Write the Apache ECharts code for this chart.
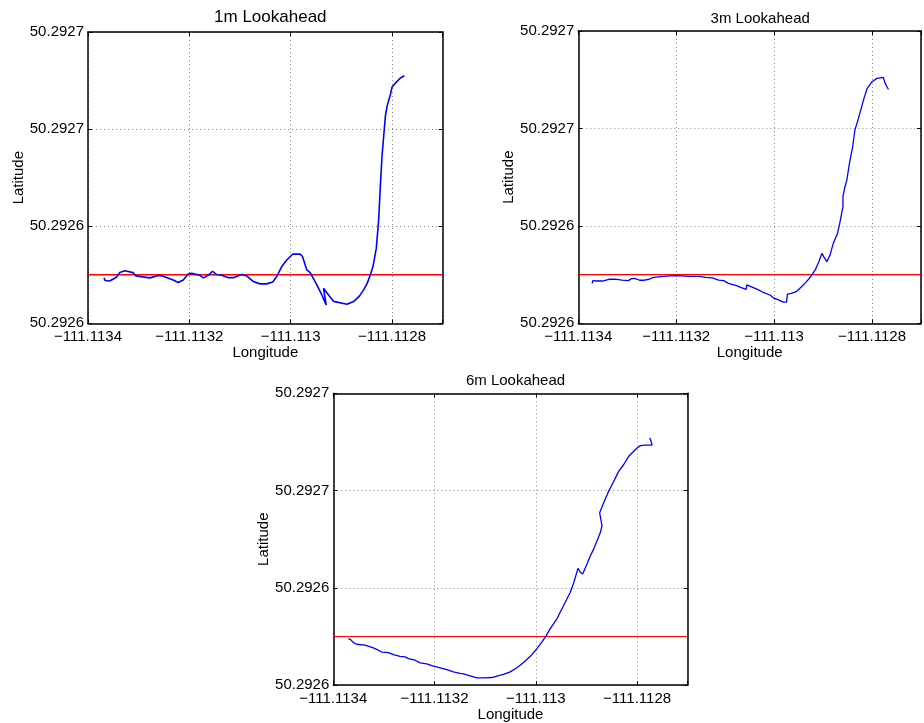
<!DOCTYPE html>
<html><head><meta charset="utf-8">
<script src="https://cdn.jsdelivr.net/npm/echarts@6/dist/echarts.min.js"></script>
<style>html,body{margin:0;padding:0;background:#fff}#c{width:924px;height:723px}</style>
</head><body><div id="c"></div>
<script>
const titles = ['1m Lookahead', '3m Lookahead', '6m Lookahead'];
const xAxisName = 'Longitude';
const yAxisName = 'Latitude';
const xTickValues = [-111.1134, -111.1132, -111.113, -111.1128];
const xTickLabels = ['\u2212111.1134', '\u2212111.1132', '\u2212111.113', '\u2212111.1128'];
const yTickLabels = ['50.2926', '50.2926', '50.2927', '50.2927'];
const xMin = -111.1134, xMax = -111.1127, xStep = 0.0002;
const yMin = 50.29255, yMax = 50.2927, yStep = 0.00005;
const refLat = 50.292575;

const lon1 = [-111.1133684,-111.1133664,-111.1133571,-111.1133440,-111.1133374,-111.1133275,-111.1133110,-111.1133057,-111.1132780,-111.1132615,-111.1132517,-111.1132319,-111.1132220,-111.1132121,-111.1132022,-111.1131956,-111.1131791,-111.1131725,-111.1131627,-111.1131541,-111.1131462,-111.1131363,-111.1131231,-111.1131132,-111.1130967,-111.1130868,-111.1130736,-111.1130605,-111.1130473,-111.1130354,-111.1130275,-111.1130176,-111.1130077,-111.1129958,-111.1129813,-111.1129767,-111.1129682,-111.1129616,-111.1129484,-111.1129385,-111.1129299,-111.1129352,-111.1129253,-111.1129154,-111.1128890,-111.1128759,-111.1128640,-111.1128561,-111.1128495,-111.1128429,-111.1128376,-111.1128310,-111.1128264,-111.1128231,-111.1128198,-111.1128132,-111.1128099,-111.1128033,-111.1128000,-111.1127934,-111.1127836,-111.1127756];
const lat1 = [50.2925735,50.2925720,50.2925718,50.2925737,50.2925761,50.2925771,50.2925761,50.2925744,50.2925734,50.2925746,50.2925742,50.2925723,50.2925710,50.2925723,50.2925754,50.2925758,50.2925747,50.2925734,50.2925747,50.2925768,50.2925751,50.2925747,50.2925735,50.2925735,50.2925751,50.2925744,50.2925715,50.2925703,50.2925703,50.2925713,50.2925741,50.2925792,50.2925826,50.2925857,50.2925856,50.2925844,50.2925775,50.2925761,50.2925698,50.2925646,50.2925594,50.2925680,50.2925646,50.2925613,50.2925598,50.2925612,50.2925641,50.2925672,50.2925703,50.2925749,50.2925792,50.2925887,50.2926033,50.2926204,50.2926359,50.2926565,50.2926617,50.2926677,50.2926716,50.2926737,50.2926763,50.2926775];

const lon2 = [-111.1133717,-111.1133703,-111.1133637,-111.1133506,-111.1133374,-111.1133242,-111.1133110,-111.1132978,-111.1132912,-111.1132846,-111.1132747,-111.1132648,-111.1132550,-111.1132484,-111.1132319,-111.1132121,-111.1131989,-111.1131725,-111.1131528,-111.1131396,-111.1131264,-111.1131132,-111.1131033,-111.1130934,-111.1130769,-111.1130671,-111.1130572,-111.1130558,-111.1130473,-111.1130341,-111.1130209,-111.1130077,-111.1130011,-111.1129912,-111.1129813,-111.1129748,-111.1129728,-111.1129649,-111.1129550,-111.1129451,-111.1129352,-111.1129253,-111.1129154,-111.1129088,-111.1129022,-111.1128989,-111.1128923,-111.1128857,-111.1128792,-111.1128706,-111.1128660,-111.1128594,-111.1128594,-111.1128561,-111.1128515,-111.1128462,-111.1128396,-111.1128350,-111.1128297,-111.1128231,-111.1128165,-111.1128099,-111.1128000,-111.1127901,-111.1127770,-111.1127737,-111.1127704,-111.1127664];
const lat2 = [50.2925705,50.2925719,50.2925717,50.2925717,50.2925726,50.2925727,50.2925722,50.2925719,50.2925729,50.2925731,50.2925721,50.2925721,50.2925726,50.2925734,50.2925739,50.2925743,50.2925745,50.2925741,50.2925741,50.2925736,50.2925733,50.2925722,50.2925719,50.2925705,50.2925693,50.2925683,50.2925674,50.2925697,50.2925688,50.2925674,50.2925657,50.2925644,50.2925630,50.2925620,50.2925609,50.2925609,50.2925650,50.2925654,50.2925662,50.2925685,50.2925710,50.2925739,50.2925777,50.2925816,50.2925859,50.2925842,50.2925816,50.2925851,50.2925910,50.2925962,50.2926013,50.2926099,50.2926150,50.2926193,50.2926235,50.2926321,50.2926406,50.2926492,50.2926535,50.2926594,50.2926654,50.2926706,50.2926740,50.2926757,50.2926762,50.2926735,50.2926718,50.2926700];

const lon3 = [-111.1133703,-111.1133684,-111.1133657,-111.1133604,-111.1133538,-111.1133374,-111.1133209,-111.1133143,-111.1133044,-111.1132912,-111.1132813,-111.1132681,-111.1132583,-111.1132517,-111.1132385,-111.1132286,-111.1132154,-111.1132022,-111.1131890,-111.1131758,-111.1131627,-111.1131495,-111.1131429,-111.1131297,-111.1131165,-111.1131033,-111.1130868,-111.1130769,-111.1130638,-111.1130506,-111.1130374,-111.1130242,-111.1130110,-111.1129978,-111.1129879,-111.1129813,-111.1129715,-111.1129583,-111.1129451,-111.1129319,-111.1129253,-111.1129167,-111.1129121,-111.1129075,-111.1128989,-111.1128923,-111.1128857,-111.1128792,-111.1128726,-111.1128693,-111.1128739,-111.1128660,-111.1128561,-111.1128475,-111.1128396,-111.1128363,-111.1128264,-111.1128165,-111.1128066,-111.1128000,-111.1127934,-111.1127836,-111.1127704,-111.1127724,-111.1127750];
const lat3 = [50.2925739,50.2925730,50.2925734,50.2925718,50.2925710,50.2925705,50.2925691,50.2925684,50.2925670,50.2925667,50.2925657,50.2925648,50.2925645,50.2925636,50.2925628,50.2925614,50.2925609,50.2925597,50.2925589,50.2925580,50.2925568,50.2925560,50.2925558,50.2925548,50.2925537,50.2925537,50.2925539,50.2925546,50.2925555,50.2925568,50.2925589,50.2925616,50.2925648,50.2925687,50.2925722,50.2925747,50.2925790,50.2925841,50.2925909,50.2925977,50.2926025,50.2926100,50.2926080,50.2926071,50.2926122,50.2926165,50.2926199,50.2926241,50.2926284,50.2926318,50.2926386,50.2926437,50.2926497,50.2926540,50.2926582,50.2926599,50.2926634,50.2926676,50.2926702,50.2926719,50.2926731,50.2926734,50.2926734,50.2926753,50.2926770];

const paths = [[lon1, lat1], [lon2, lat2], [lon3, lat3]];

// layout (pixels) and per-panel styling
const grids = [
  {left: 88, top: 32, width: 354.7, height: 291.3},
  {left: 578.3, top: 31, width: 353.9, height: 292.3},
  {left: 333.3, top: 393.3, width: 354.4, height: 293.4}
];
const titlePos = [
  {x: 265.3, top: 4, size: 17},
  {x: 755.2, top: 6, size: 15},
  {x: 510.5, top: 368, size: 15}
];
const pathWidth = [1.6, 1.3, 1.3];
const refWidth = [1.6, 1.1, 1.1];

const FONT = 'Liberation Sans, Arial, Helvetica, sans-serif';
const black = '#000';

function xFmt(v) {
  for (let i = 0; i < xTickValues.length; i++) {
    if (Math.abs(v - xTickValues[i]) < 1e-8) return xTickLabels[i];
  }
  return '';
}
function yFmt(v) {
  const i = Math.round((v - yMin) / yStep);
  return yTickLabels[i] || '';
}

const option = {
  backgroundColor: '#fff',
  animation: false,
  title: titles.map((t, i) => ({
    text: t, left: titlePos[i].x, top: titlePos[i].top, textAlign: 'center',
    textStyle: {fontFamily: FONT, fontWeight: 'normal', fontSize: titlePos[i].size, color: black}
  })),
  grid: grids.map(g => Object.assign({containLabel: false}, g)),
  xAxis: [],
  yAxis: [],
  series: []
};

const frameLine = {show: true, onZero: false, lineStyle: {color: black, width: 1.5}};
const tick = {show: true, inside: true, length: 4, lineStyle: {color: black, width: 1}};
const gridLine = {show: true, lineStyle: {color: '#888', type: [1, 3], width: 1}};

grids.forEach((g, gi) => {
  option.xAxis.push({
    gridIndex: gi, type: 'value', position: 'bottom', min: xMin, max: xMax, interval: xStep,
    name: xAxisName, nameLocation: 'middle', nameGap: 21,
    nameTextStyle: {fontFamily: FONT, fontSize: 15, color: black},
    axisLine: frameLine, axisTick: tick,
    axisLabel: {show: true, formatter: xFmt, fontFamily: FONT, fontSize: 15, color: black, margin: 6, showMinLabel: true, showMaxLabel: true, hideOverlap: false},
    splitLine: gridLine
  });
  option.xAxis.push({
    gridIndex: gi, type: 'value', position: 'top', min: xMin, max: xMax, interval: xStep,
    axisLine: frameLine, axisTick: tick,
    axisLabel: {show: false}, splitLine: {show: false}
  });
  option.yAxis.push({
    gridIndex: gi, type: 'value', position: 'left', min: yMin, max: yMax, interval: yStep,
    name: yAxisName, nameLocation: 'middle', nameGap: 62, nameRotate: 90,
    nameTextStyle: {fontFamily: FONT, fontSize: 15, color: black},
    axisLine: frameLine, axisTick: tick,
    axisLabel: {show: true, formatter: yFmt, fontFamily: FONT, fontSize: 15, color: black, margin: 4, showMinLabel: true, showMaxLabel: true, hideOverlap: false},
    splitLine: gridLine
  });
  option.yAxis.push({
    gridIndex: gi, type: 'value', position: 'right', min: yMin, max: yMax, interval: yStep,
    axisLine: frameLine, axisTick: tick,
    axisLabel: {show: false}, splitLine: {show: false}
  });
  const [lo, la] = paths[gi];
  option.series.push({
    type: 'line', xAxisIndex: gi * 2, yAxisIndex: gi * 2,
    data: lo.map((v, k) => [v, la[k]]),
    showSymbol: false, symbol: 'none', smooth: false,
    lineStyle: {color: '#0000ff', width: pathWidth[gi]}, z: 3
  });
  option.series.push({
    type: 'line', xAxisIndex: gi * 2, yAxisIndex: gi * 2,
    data: [[xMin, refLat], [xMax, refLat]],
    showSymbol: false, symbol: 'none',
    lineStyle: {color: '#ff0000', width: refWidth[gi]}, z: 2
  });
});

const chart = echarts.init(document.getElementById('c'), null, {renderer: 'canvas'});
chart.setOption(option);
</script>
</body></html>
